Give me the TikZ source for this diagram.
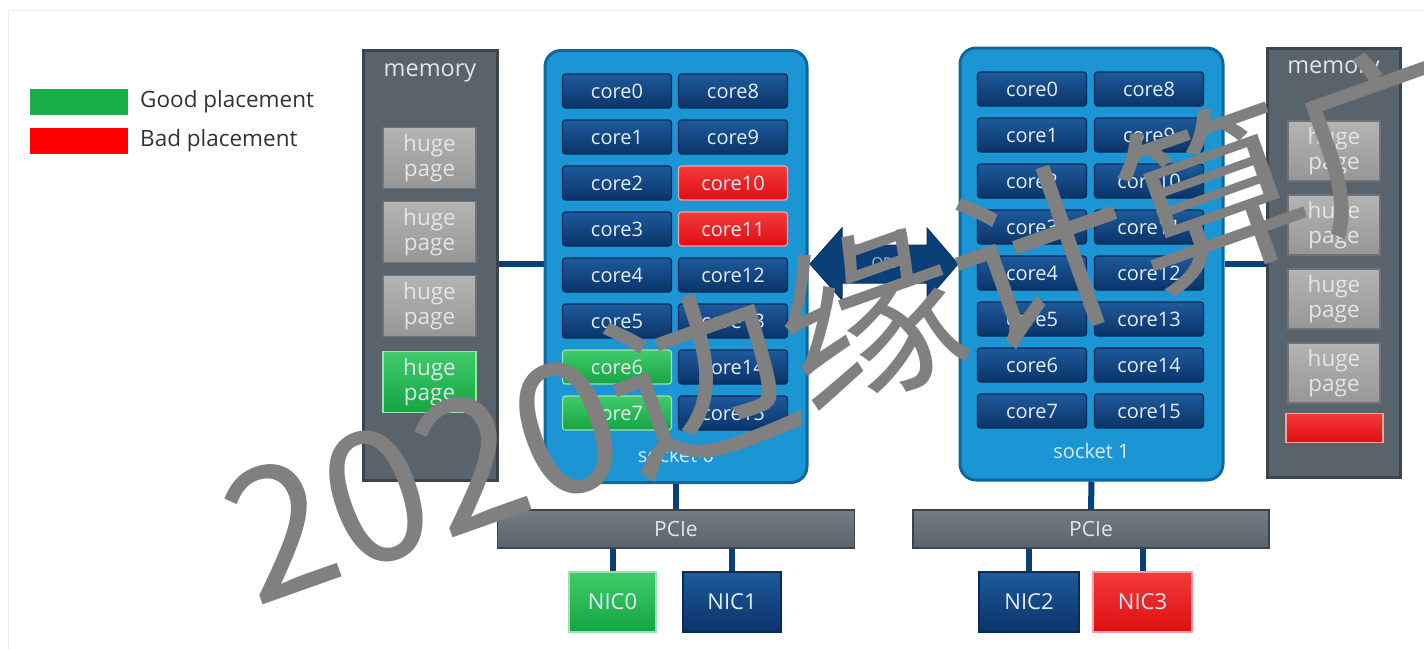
\documentclass[tikz,border=0pt]{standalone}
\usepackage{fontspec}
\setmainfont{Open Sans}
\newfontfamily\wmfont{Noto Sans CJK SC}

\definecolor{linkblue}{HTML}{0B3F78}
\definecolor{linkedge}{HTML}{08305C}
\definecolor{qpiText}{HTML}{A8C3E3}
\definecolor{coreTop}{HTML}{1E5A9C}
\definecolor{coreBot}{HTML}{0A3468}
\definecolor{coreEdge}{HTML}{082C56}
\definecolor{coreText}{HTML}{E4ECF6}
\definecolor{goodTop}{HTML}{3FCB6A}
\definecolor{goodBot}{HTML}{16A544}
\definecolor{goodEdge}{HTML}{9BE3AE}
\definecolor{badTop}{HTML}{F43A3A}
\definecolor{badBot}{HTML}{DE0E12}
\definecolor{badEdge}{HTML}{F7A0A0}
\definecolor{sockFill}{HTML}{1B95D3}
\definecolor{sockEdge}{HTML}{0D67A1}
\definecolor{sockText}{HTML}{D4ECF9}
\definecolor{memFill}{HTML}{58636C}
\definecolor{memEdge}{HTML}{3D454C}
\definecolor{memText}{HTML}{E2E5E8}
\definecolor{busTop}{HTML}{737D85}
\definecolor{pageTop}{HTML}{B4B4B4}
\definecolor{pageBot}{HTML}{969696}
\definecolor{pageEdge}{HTML}{6E7378}
\definecolor{legGreen}{HTML}{19B04B}
\definecolor{legRed}{HTML}{FF0000}
\definecolor{legText}{HTML}{333333}
\definecolor{wmGray}{HTML}{808080}

\tikzset{
  link/.style={draw=linkblue, line width=6pt},
  core/.style={rectangle, rounded corners=3pt, minimum width=109pt, minimum height=34pt,
    inner sep=0pt, top color=coreTop, bottom color=coreBot, draw=coreEdge,
    line width=1.2pt, text=coreText, font=\fontsize{20}{23}\selectfont},
  good/.style={core, top color=goodTop, bottom color=goodBot, draw=goodEdge},
  bad/.style={core, top color=badTop, bottom color=badBot, draw=badEdge},
  socket/.style={rectangle, rounded corners=16pt, minimum width=262pt, minimum height=432pt,
    fill=sockFill, draw=sockEdge, line width=3pt, inner sep=0pt},
  socklabel/.style={text=sockText, font=\fontsize{20}{23}\selectfont},
  memory/.style={rectangle, minimum width=134pt, minimum height=430pt, fill=memFill,
    draw=memEdge, line width=3pt, inner sep=0pt},
  memlabel/.style={text=memText, font=\fontsize{23.5}{26}\selectfont},
  page/.style={rectangle, minimum width=93pt, minimum height=61pt, inner sep=0pt,
    top color=pageTop, bottom color=pageBot, draw=pageEdge, line width=1.5pt,
    text=memText, align=center, font=\fontsize{22.5}{25}\selectfont},
  goodpage/.style={page, top color=goodTop, bottom color=goodBot, draw=goodEdge},
  badpage/.style={page, top color=badTop, bottom color=badBot, draw=badEdge},
  bus/.style={rectangle, minimum width=357pt, minimum height=38pt, inner sep=0pt,
    top color=busTop, bottom color=memFill, draw=memEdge, line width=1.5pt,
    text=memText, font=\fontsize{21}{24}\selectfont},
  nic/.style={rectangle, minimum height=60pt, inner sep=0pt, top color=coreTop,
    bottom color=coreBot, draw=coreEdge, line width=1.2pt, text=coreText,
    font=\fontsize{22}{26}\selectfont},
  goodnic/.style={nic, top color=goodTop, bottom color=goodBot, draw=goodEdge},
  badnic/.style={nic, top color=badTop, bottom color=badBot, draw=badEdge},
  qpiarrow/.style={fill=linkblue, draw=linkedge, line width=1pt, line join=miter},
  qpilabel/.style={text=qpiText, inner sep=0pt, font=\fontsize{15}{17}\selectfont},
  legbox/.style={rectangle, minimum width=98pt, minimum height=26pt, inner sep=0pt},
  legtext/.style={anchor=west, inner sep=0pt, text=legText, font=\fontsize{22.5}{26}\selectfont},
  watermark/.style={text=wmGray, font=\wmfont\fontsize{182}{186}\selectfont, inner sep=0pt}
}

\begin{document}
\begin{tikzpicture}[x=1pt, y=-1pt]
\useasboundingbox (0,0) rectangle (1424,648);
\clip (0,0) rectangle (1424,648);
\fill[white] (0,0) rectangle (1424,648);
\draw[black!7, line width=1pt] (8,10) rectangle (1440,660);

% legend
\node[legbox, fill=legGreen] (lgood) at (79,102) {};
\node[legbox, fill=legRed] (lbad) at (79,141) {};
\node[legtext] (lgoodt) at (140,102) {Good placement};
\node[legtext] (lbadt) at (140,141) {Bad placement};

% memory banks
\node[memory] (mem0) at (430,265) {};
\node[memlabel] (mem0l) at (430,73) {memory};
\node[page] (p01) at (429.5,158) {huge\\page};
\node[page] (p02) at (429.5,232) {huge\\page};
\node[page] (p03) at (429.5,306) {huge\\page};
\node[goodpage] (p04) at (429.5,382) {huge\\page};

\node[memory, minimum width=133pt, minimum height=429pt] (mem1) at (1333.5,262.5) {};
\node[memlabel] (mem1l) at (1333.5,70) {memory};
\node[page, minimum width=92pt, minimum height=60pt] (p11) at (1334,151) {huge\\page};
\node[page, minimum width=92pt, minimum height=60pt] (p12) at (1334,225) {huge\\page};
\node[page, minimum width=92pt, minimum height=60pt] (p13) at (1334,299) {huge\\page};
\node[page, minimum width=92pt, minimum height=60pt] (p14) at (1334,373) {huge\\page};
\node[badpage, minimum width=97pt, minimum height=29pt] (p15) at (1334.5,428) {};

% sockets
\node[socket] (sock0) at (676,266.5) {};
\node[socket, minimum width=263pt] (sock1) at (1091.5,264) {};
\node[socklabel] (sock0l) at (676,455) {socket 0};
\node[socklabel] (sock1l) at (1091.5,451) {socket 1};

\foreach \i/\sl/\sr in {0/core/core,1/core/core,2/core/bad,3/core/bad,
                        4/core/core,5/core/core,6/good/core,7/good/core}{
  \pgfmathtruncatemacro\j{\i+8}
  \node[\sl] (a\i) at (617,{91+46*\i}) {core\i};
  \node[\sr] (a\j) at (733,{91+46*\i}) {core\j};
}
\foreach \i in {0,...,7}{
  \pgfmathtruncatemacro\j{\i+8}
  \node[core] (b\i) at (1032,{89+46*\i}) {core\i};
  \node[core] (b\j) at (1149,{89+46*\i}) {core\j};
}

% QPI link between the sockets: a double-headed block arrow
\coordinate (qpi) at (884,264);
\draw[qpiarrow] (810,264) -- (842,228) -- (842,245) -- (927,245) -- (927,228)
  -- (958,264) -- (927,300) -- (927,283) -- (842,283) -- (842,300) -- cycle;
\node[qpilabel] (qpil) at (884,264) {QPI};

% PCIe buses and NICs
\node[bus] (pcie0) at (676,529) {PCIe};
\node[bus, minimum width=356pt] (pcie1) at (1091,529) {PCIe};
\node[goodnic, minimum width=87pt] (nic0) at (612.5,602) {NIC0};
\node[nic, minimum width=98pt] (nic1) at (732,602) {NIC1};
\node[nic, minimum width=100pt] (nic2) at (1029,602) {NIC2};
\node[badnic, minimum width=99pt] (nic3) at (1142.5,602) {NIC3};

% connectors
\draw[link] (qpi -| mem0.east) -- (qpi -| sock0.west);
\draw[link] (qpi -| sock1.east) -- (qpi -| mem1.west);
\draw[link] (sock0.south) -- (pcie0.north);
\draw[link] (sock1.south) -- (pcie1.north);
\draw[link] (pcie0.south -| nic0) -- (nic0.north);
\draw[link] (pcie0.south -| nic1) -- (nic1.north);
\draw[link] (pcie1.south -| nic2) -- (nic2.north);
\draw[link] (pcie1.south -| nic3) -- (nic3.north);

% watermark
\node[watermark, anchor=base west, rotate=19.5] (wm) at (255,608) {2020边缘计算广};
\end{tikzpicture}
\end{document}
